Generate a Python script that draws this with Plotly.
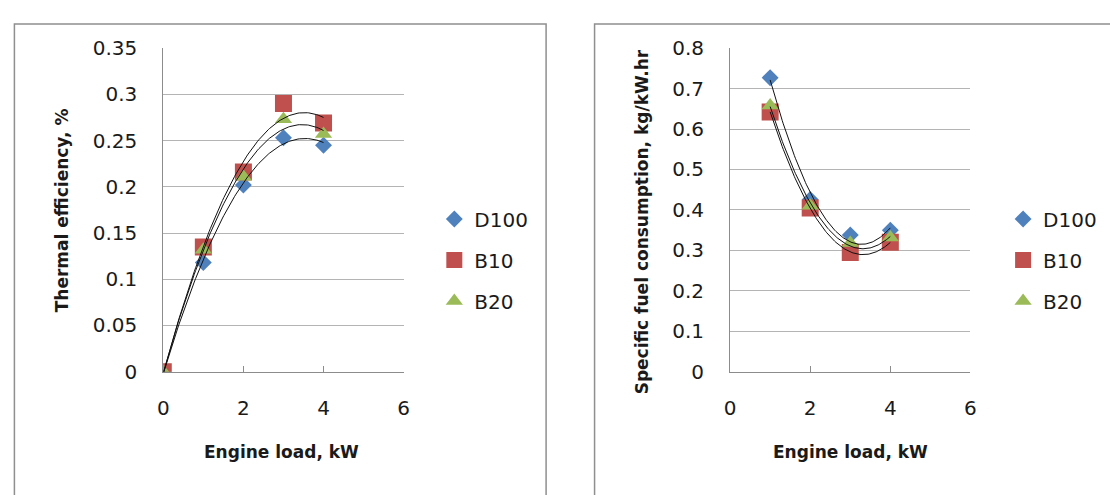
import numpy as np
import plotly.graph_objects as go

# ---------------- data ----------------
series_names = ["D100", "B10", "B20"]
colors = ["#4F81BD", "#C0504D", "#9BBB59"]
symbols = ["diamond", "square", "triangle-up"]
marker_sizes = [13, 17, 15]

load_te = [0, 1, 2, 3, 4]
te_d100 = [0, 0.118, 0.202, 0.253, 0.245]
te_b10 = [0, 0.135, 0.216, 0.290, 0.269]
te_b20 = [0, 0.132, 0.211, 0.273, 0.257]

load_sfc = [1, 2, 3, 4]
sfc_d100 = [0.727, 0.426, 0.338, 0.350]
sfc_b10 = [0.642, 0.405, 0.295, 0.320]
sfc_b20 = [0.658, 0.410, 0.318, 0.332]

xticks = [0, 2, 4, 6]
te_yticks = [0, 0.05, 0.1, 0.15, 0.2, 0.25, 0.3, 0.35]
sfc_yticks = [0, 0.1, 0.2, 0.3, 0.4, 0.5, 0.6, 0.7, 0.8]

te_series = [te_d100, te_b10, te_b20]
sfc_series = [sfc_d100, sfc_b10, sfc_b20]
TREND_ORDER = 2  # Excel polynomial trendline order

W, H = 1110, 495
FONT = "DejaVu Sans"
GRID = "#b4b4b4"
AXIS = "#8c8c8c"
TXT = "#1a1a1a"


def px_x(p):
    return p / W


def px_y(p):
    return 1 - p / H


fig = go.Figure()


def add_panel(xs, ys_list, xaxis, yaxis, legend):
    for name, ys, c, s, ms in zip(series_names, ys_list, colors, symbols, marker_sizes):
        fig.add_trace(go.Scatter(
            x=xs, y=ys, mode="markers", name=name,
            marker=dict(symbol=s, size=ms, color=c, line=dict(width=0)),
            xaxis=xaxis, yaxis=yaxis, legend=legend, legendgroup=legend + name,
        ))
    for ys in ys_list:
        coef = np.polyfit(xs, ys, TREND_ORDER)
        xf = np.linspace(min(xs), max(xs), 120)
        fig.add_trace(go.Scatter(
            x=xf, y=np.polyval(coef, xf), mode="lines",
            line=dict(color="#111111", width=1), showlegend=False,
            hoverinfo="skip", xaxis=xaxis, yaxis=yaxis,
        ))


add_panel(load_te, te_series, "x", "y", "legend")
add_panel(load_sfc, sfc_series, "x2", "y2", "legend2")

ydom = [px_y(378), px_y(38)]
common_x = dict(range=[0, 6], tickvals=xticks, ticks="inside", ticklen=6, tickcolor=AXIS,
                showline=True, linecolor=AXIS, linewidth=1, showgrid=False, zeroline=False,
                tickfont=dict(family=FONT, size=20, color=TXT), ticklabelstandoff=18,
                fixedrange=True)
common_y = dict(showline=True, linecolor=AXIS, linewidth=1, showgrid=True, gridcolor=GRID,
                gridwidth=1, zeroline=False, ticks="", domain=ydom,
                tickfont=dict(family=FONT, size=20, color=TXT), ticklabelstandoff=21,
                fixedrange=True)

leg_common = dict(font=dict(family=FONT, size=20, color=TXT), bgcolor="rgba(0,0,0,0)",
                  yanchor="top", xanchor="left", tracegroupgap=12, itemwidth=30)

fig.update_layout(
    width=W, height=H,
    margin=dict(l=0, r=0, t=0, b=0),
    paper_bgcolor="white", plot_bgcolor="white",
    xaxis=dict(domain=[px_x(159), px_x(402)], anchor="y", **common_x),
    yaxis=dict(range=[0, 0.35], tickvals=te_yticks, anchor="x", **common_y),
    xaxis2=dict(domain=[px_x(732), px_x(975)], anchor="y2", **common_x),
    yaxis2=dict(range=[0, 0.8], tickvals=sfc_yticks, anchor="x2", **common_y),
    legend=dict(x=px_x(433), y=px_y(197), **leg_common),
    legend2=dict(x=px_x(1008), y=px_y(197), **leg_common),
    showlegend=True,
)

# panel borders
for x0, x1 in [(8.5, 546), (595, 1130)]:
    fig.add_shape(type="rect", xref="paper", yref="paper",
                  x0=px_x(x0), x1=px_x(x1), y0=-0.05, y1=px_y(12.5),
                  line=dict(color="#8f8f8f", width=1.5), fillcolor="rgba(0,0,0,0)")

title_font = dict(family=FONT, size=17, color=TXT, weight="bold")
fig.add_annotation(text="Engine load, kW", xref="paper", yref="paper", x=px_x(279), y=px_y(462),
                   showarrow=False, font=title_font, xanchor="center", yanchor="middle")
fig.add_annotation(text="Engine load, kW", xref="paper", yref="paper", x=px_x(854), y=px_y(462),
                   showarrow=False, font=title_font, xanchor="center", yanchor="middle")
fig.add_annotation(text="Thermal efficiency, %", xref="paper", yref="paper", x=px_x(57), y=px_y(208),
                   showarrow=False, font=title_font, textangle=-90, xanchor="center", yanchor="middle")
fig.add_annotation(text="Specific fuel consumption, kg/kW.hr", xref="paper", yref="paper",
                   x=px_x(643), y=px_y(221), showarrow=False, font=title_font, textangle=-90,
                   xanchor="center", yanchor="middle")

fig.write_html(
    "out.html",
    config={"displayModeBar": False},
    post_script="document.body.style.margin='0';document.body.style.overflow='hidden';",
)
